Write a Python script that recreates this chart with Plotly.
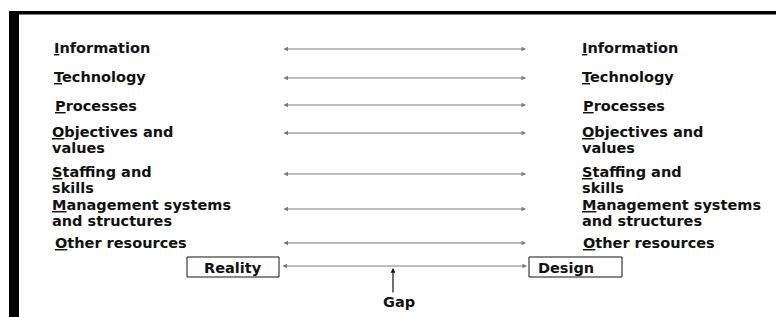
import plotly.graph_objects as go

# ---- data ----
factor_lines = [
    ["Information"],
    ["Technology"],
    ["Processes"],
    ["Objectives and", "values"],
    ["Staffing and", "skills"],
    ["Management systems", "and structures"],
    ["Other resources"],
]
ends = ["Reality", "Design"]
gap_label = "Gap"

# ---- layout positions (pixel coordinates of the page) ----
row_text_y = [48, 77, 106, 132, 172, 205, 243]
row_arrow_y = [49, 78, 105, 133, 174, 209, 243]
row_text_x_left = [52, 52, 53, 50, 50, 50, 53]
row_text_x_right = [580, 580, 581, 580, 580, 580, 581]
line_gap = 16
arrow_x0, arrow_x1 = 282, 526

PAGE_OFF = 8          # browser body margin
W, H = 784, 317
FONT = dict(family="DejaVu Sans", size=14.5, color="#111111")

fig = go.Figure()
fig.add_trace(go.Scatter(x=[PAGE_OFF, W], y=[PAGE_OFF, H], mode="markers",
                         marker=dict(opacity=0), hoverinfo="skip", showlegend=False))

ann = []
def label(lines, x, y0):
    for k, ln in enumerate(lines):
        t = ln
        if k == 0:
            t = "<u>" + ln[0] + "</u>" + ln[1:]
        ann.append(dict(x=x, y=y0 + k * line_gap, text="<b>" + t + "</b>",
                        showarrow=False, xanchor="left", yanchor="middle",
                        font=FONT, xref="x", yref="y"))

for i, lines in enumerate(factor_lines):
    label(lines, row_text_x_left[i], row_text_y[i])
    label(lines, row_text_x_right[i], row_text_y[i])
    ay = row_arrow_y[i]
    ann.append(dict(x=arrow_x1, y=ay, ax=arrow_x0, ay=ay, xref="x", yref="y",
                    axref="x", ayref="y", text="", showarrow=True,
                    arrowside="end+start", arrowhead=2, arrowsize=0.9,
                    arrowwidth=1, arrowcolor="#7a7a7a"))

# reality / design boxes
box_y0, box_y1 = 257, 277
boxes = [(187, 279), (529, 622)]
box_text_x = [233, 566]
shapes = []
for (bx0, bx1), tx, name in zip(boxes, box_text_x, ends):
    shapes.append(dict(type="rect", x0=bx0, x1=bx1, y0=box_y0, y1=box_y1,
                       line=dict(color="#111111", width=1), xref="x", yref="y"))
    ann.append(dict(x=tx, y=(box_y0 + box_y1) / 2 + 0.5,
                    text="<b>" + name + "</b>", showarrow=False,
                    font=FONT, xref="x", yref="y"))

# gap line between boxes
gy = 266
ann.append(dict(x=527, y=gy, ax=281, ay=gy, xref="x", yref="y",
                axref="x", ayref="y", text="", showarrow=True,
                arrowside="end+start", arrowhead=2, arrowsize=0.9,
                arrowwidth=1, arrowcolor="#7a7a7a"))
# gap pointer
ann.append(dict(x=393, y=268, ax=393, ay=294, xref="x", yref="y",
                axref="x", ayref="y", text="", showarrow=True,
                arrowhead=2, arrowsize=0.8, arrowwidth=1.2, arrowcolor="#111111"))
ann.append(dict(x=399, y=302, text="<b>" + gap_label + "</b>", showarrow=False,
                font=FONT, xref="x", yref="y"))

# frame (thick black border, top and left)
shapes.append(dict(type="rect", x0=9, x1=19, y0=11, y1=H + 5,
                   fillcolor="black", line=dict(width=0), xref="x", yref="y"))
shapes.append(dict(type="rect", x0=9, x1=W + 5, y0=11, y1=14.5,
                   fillcolor="black", line=dict(width=0), xref="x", yref="y"))

fig.update_layout(
    width=W - PAGE_OFF, height=H - PAGE_OFF, margin=dict(l=0, r=0, t=0, b=0),
    paper_bgcolor="white", plot_bgcolor="white",
    xaxis=dict(range=[PAGE_OFF, W], visible=False, fixedrange=True),
    yaxis=dict(range=[H, PAGE_OFF], visible=False, fixedrange=True),
    annotations=ann, shapes=shapes, showlegend=False,
)
fig.write_html("out.html")
